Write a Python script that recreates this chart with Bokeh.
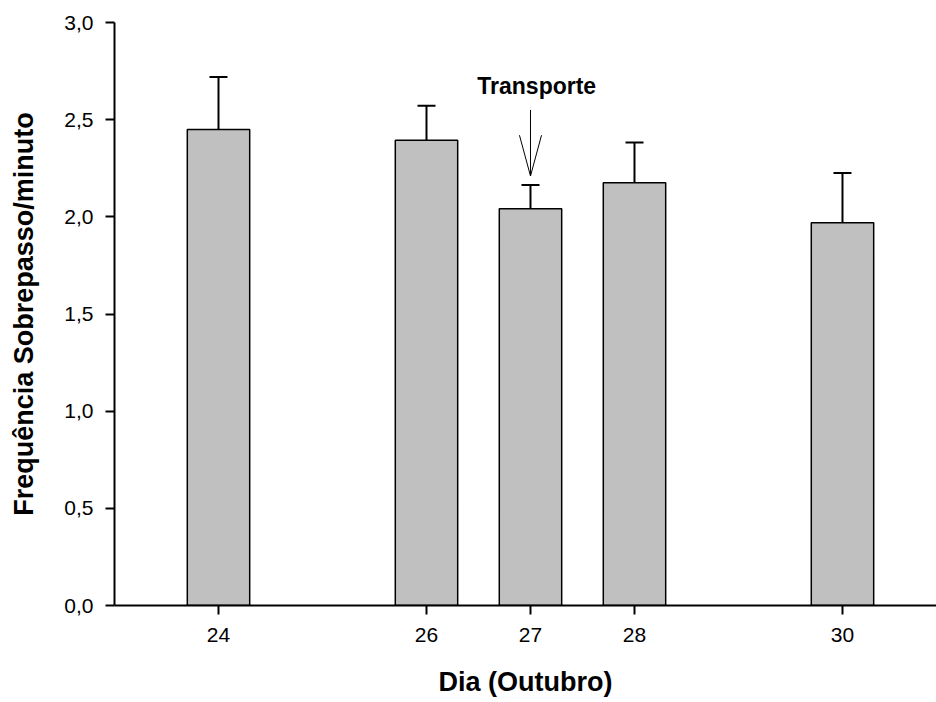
from bokeh.embed import file_html
from bokeh.resources import INLINE
from bokeh.plotting import figure
from bokeh.models import (ColumnDataSource, Range1d, FixedTicker, Whisker,
                          TeeHead, Label)

# Overlap frequency per day (October), mean and upper error
days = [24, 26, 27, 28, 30]
freq = [2.449, 2.394, 2.041, 2.176, 1.970]
err = [0.271, 0.178, 0.123, 0.206, 0.256]

y_ticks = [0.0, 0.5, 1.0, 1.5, 2.0, 2.5, 3.0]
y_tick_labels = ["0,0", "0,5", "1,0", "1,5", "2,0", "2,5", "3,0"]
x_tick_labels = ["24", "26", "27", "28", "30"]

x_title = "Dia (Outubro)"
y_title = "Frequência Sobrepasso/minuto"

# "Transporte" marker on day 27
event_day = 27
event_text = "Transporte"
arrow_top = 2.55
arrow_tip = 2.21

FONT = "Liberation Sans"

src = ColumnDataSource(dict(
    day=days,
    freq=freq,
    upper=[f + e for f, e in zip(freq, err)],
))

p = figure(width=936, height=702, output_backend="svg", toolbar_location=None,
           x_range=Range1d(23.0, 30.904), y_range=Range1d(0.0, 3.0),
           min_border_left=114, min_border_right=0,
           min_border_top=22, min_border_bottom=97)
p.outline_line_color = None
p.background_fill_color = "white"
p.border_fill_color = "white"
p.grid.visible = False

p.vbar(x="day", top="freq", bottom=0, width=0.6, source=src,
       fill_color="#c0c0c0", line_color="black", line_width=1.5)

p.add_layout(Whisker(base="day", lower="freq", upper="upper", source=src,
                     line_color="black", line_width=2,
                     upper_head=TeeHead(size=18, line_width=2, line_color="black"),
                     lower_head=None))

# Arrow with a long, narrow open head
head_len = 0.21
head_half = 0.106
p.segment(x0=[event_day], y0=[arrow_top], x1=[event_day], y1=[arrow_tip],
          line_color="black", line_width=1)
p.segment(x0=[event_day - head_half, event_day + head_half],
          y0=[arrow_tip + head_len, arrow_tip + head_len],
          x1=[event_day, event_day], y1=[arrow_tip, arrow_tip],
          line_color="black", line_width=1)
p.add_layout(Label(x=event_day + 0.06, y=2.675, text=event_text,
                   text_font=FONT, text_font_style="bold", text_font_size="23px",
                   text_align="center", text_baseline="middle",
                   text_color="black"))

# Axes
for ax in (p.xaxis[0], p.yaxis[0]):
    ax.axis_line_width = 2
    ax.axis_line_color = "black"
    ax.major_tick_line_width = 2
    ax.major_tick_line_color = "black"
    ax.major_tick_in = 0
    ax.major_tick_out = 9
    ax.minor_tick_line_color = None
    ax.major_label_text_font = FONT
    ax.major_label_text_font_size = "21px"
    ax.major_label_text_color = "black"
    ax.axis_label_text_font = FONT
    ax.axis_label_text_font_style = "bold"
    ax.axis_label_text_color = "black"

p.xaxis.ticker = FixedTicker(ticks=days)
p.xaxis.major_label_overrides = {d: s for d, s in zip(days, x_tick_labels)}
p.xaxis.major_label_standoff = 13
p.xaxis.axis_label = x_title
p.xaxis.axis_label_text_font_size = "27px"
p.xaxis.axis_label_standoff = 22

p.yaxis.ticker = FixedTicker(ticks=y_ticks)
p.yaxis.major_label_overrides = {t: s for t, s in zip(y_ticks, y_tick_labels)}
p.yaxis.major_label_standoff = 12
p.yaxis.axis_label = y_title
p.yaxis.axis_label_text_font_size = "27px"
p.yaxis.axis_label_standoff = 22

open("out.html", "w").write(file_html(p, INLINE))
